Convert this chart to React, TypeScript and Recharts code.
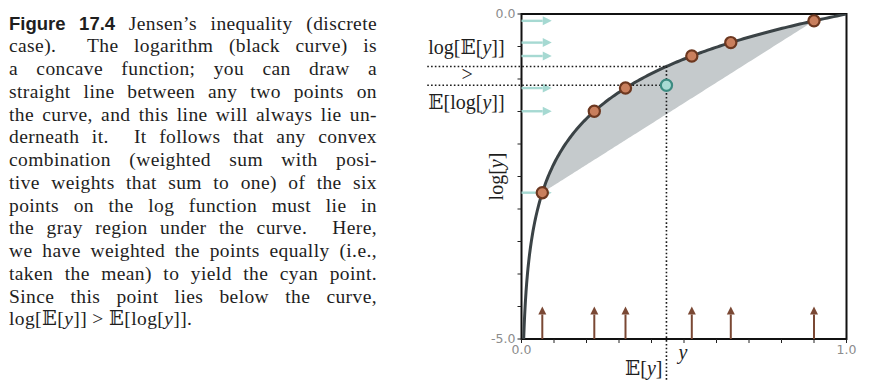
import { Area, ComposedChart, Line, ReferenceArea, ReferenceLine, Scatter, XAxis, YAxis } from "recharts"

// six sample points y_i
const pointX = [0.064, 0.224, 0.32, 0.524, 0.644, 0.9]
const xTicks = [0, 0.1, 0.2, 0.3, 0.4, 0.5, 0.6, 0.7, 0.8, 0.9, 1]
const yTicks = [-5, -4.5, -4, -3.5, -3, -2.5, -2, -1.5, -1, -0.5, 0]
const yMin = -5
const arrowLen = 0.093
const bottomArrowTop = -4.5

const captionLines = [
    "Jensen\u2019s inequality (discrete",
    "case).  The logarithm (black curve) is",
    "a concave function; you can draw a",
    "straight line between any two points on",
    "the curve, and this line will always lie un-",
    "derneath it.  It follows that any convex",
    "combination (weighted sum with posi-",
    "tive weights that sum to one) of the six",
    "points on the log function must lie in",
    "the gray region under the curve.  Here,",
    "we have weighted the points equally (i.e.,",
    "taken the mean) to yield the cyan point.",
    "Since this point lies below the curve,",
]

// the plotted function is log(y); sample it from where it leaves the frame
const x0 = Math.exp(yMin)
const first = pointX[0]
const last = pointX[pointX.length - 1]
const chord = (x: number) => Math.log(first) + ((x - first) / (last - first)) * (Math.log(last) - Math.log(first))
const curveX: number[] = [x0]
for (let i = 1; i <= 200; i++) curveX.push(x0 + (1 - x0) * Math.pow(i / 200, 2))
pointX.forEach((p) => curveX.push(p))
curveX.sort((a, b) => a - b)
const curve = curveX.map((x) => ({
    x,
    logy: Math.log(x),
    band: x >= first - 1e-9 && x <= last + 1e-9 ? [chord(x), Math.log(x)] : undefined,
}))

const points = pointX.map((x) => ({ x, y: Math.log(x) }))
const meanX = pointX.reduce((a, b) => a + b, 0) / pointX.length
const meanLog = points.reduce((a, p) => a + p.y, 0) / points.length
const meanPoint = [{ x: meanX, y: meanLog }]

const serif = "'Liberation Serif', 'DejaVu Serif', serif"
const BB = "\u{1D53C}"

const arrowShape = (color: string, width: number, head: number) => (p: any) => {
    const { x1, y1, x2, y2 } = p
    const a = Math.atan2(y2 - y1, x2 - x1)
    const bx = x2 - head * Math.cos(a)
    const by = y2 - head * Math.sin(a)
    const w = head * 0.5
    return (
        <g>
            <line x1={x1} y1={y1} x2={bx} y2={by} stroke={color} strokeWidth={width} />
            <polygon
                points={`${x2},${y2} ${bx - w * Math.sin(a)},${by + w * Math.cos(a)} ${bx + w * Math.sin(a)},${by - w * Math.cos(a)}`}
                fill={color}
            />
        </g>
    )
}

const dotted = { stroke: "#1a1a1a", strokeWidth: 1.6, strokeDasharray: "1.6 2.2" }

const Dot = (fill: string, stroke: string) => (p: any) => (
    <circle cx={p.cx} cy={p.cy} r={5.6} fill={fill} stroke={stroke} strokeWidth={2.2} />
)

const MathY = () => <tspan fontStyle="italic">y</tspan>

export default function App() {
    return (
        <div style={{ position: "absolute", left: 0, top: 0, width: 872, height: 391, background: "#fff" }}>
            <div
                style={{
                    position: "absolute",
                    left: 9,
                    top: 12.5,
                    width: 368,
                    fontFamily: serif,
                    fontSize: 19.5,
                    letterSpacing: 0.4,
                    lineHeight: "22.75px",
                    color: "#1e1e1e",
                }}
            >
                {captionLines.map((l, i) => (
                    <div key={i} style={{ textAlign: "justify", textAlignLast: "justify", whiteSpace: "pre-wrap" }}>
                        {i === 0 && (
                            <b style={{ fontFamily: "'Liberation Sans', Arial, sans-serif", fontSize: 18.5, letterSpacing: 0 }}>
                                Figure{"\u00a0"}17.4{"\u00a0"}
                            </b>
                        )}
                        {l}
                    </div>
                ))}
                <div>
                    log[{BB}[<i>y</i>]] &gt; {BB}[log[<i>y</i>]].
                </div>
            </div>

            <ComposedChart
                width={872}
                height={391}
                data={curve}
                margin={{ top: 14, right: 25.5, bottom: 22, left: 481.5 }}
                style={{ position: "absolute", left: 0, top: 0 }}
            >
                <XAxis
                    dataKey="x"
                    type="number"
                    domain={[0, 1]}
                    ticks={xTicks}
                    allowDataOverflow
                    height={30}
                    axisLine={false}
                    tickSize={4}
                    tickLine={{ stroke: "#222" }}
                    tick={{ fill: "#8c8c8c", fontSize: 12.5, fontFamily: "'DejaVu Sans', sans-serif" }}
                    tickFormatter={(v: number) => (v === 0 || v === 1 ? v.toFixed(1) : "")}
                    label={(p: any) => (
                        <text x={p.viewBox.x + p.viewBox.width / 2 - 1} y={p.viewBox.y + 20} fontFamily={serif} fontSize={20} fontStyle="italic" textAnchor="middle" fill="#1e1e1e">
                            y
                        </text>
                    )}
                />
                <YAxis
                    type="number"
                    domain={[yMin, 0]}
                    ticks={yTicks}
                    allowDataOverflow
                    width={40}
                    axisLine={false}
                    tickSize={4}
                    tickLine={{ stroke: "#222" }}
                    tick={{ fill: "#8c8c8c", fontSize: 12.5, fontFamily: "'DejaVu Sans', sans-serif" }}
                    tickFormatter={(v: number) => (v === 0 ? "0.0" : v === yMin ? "-5.0" : "")}
                    label={(p: any) => {
                        const cx = p.viewBox.x + 15
                        const cy = p.viewBox.y + p.viewBox.height / 2
                        return (
                            <text x={cx} y={cy} transform={`rotate(-90 ${cx} ${cy})`} dy={6} fontFamily={serif} fontSize={20} textAnchor="middle" fill="#1e1e1e">
                                log[<MathY />]
                            </text>
                        )
                    }}
                />
                <Area dataKey="band" fill="#c5cacc" fillOpacity={1} stroke="none" isAnimationActive={false} />
                <Line dataKey="logy" stroke="#3b4346" strokeWidth={3} dot={false} isAnimationActive={false} />

                {points.map((p, i) => (
                    <ReferenceLine
                        key={"c" + i}
                        segment={[{ x: 0, y: p.y }, { x: arrowLen, y: p.y }]}
                        shape={arrowShape("#a6d9d2", 2.4, 9)}
                    />
                ))}
                {points.map((p, i) => (
                    <ReferenceLine
                        key={"b" + i}
                        segment={[{ x: p.x, y: yMin }, { x: p.x, y: bottomArrowTop }]}
                        shape={arrowShape("#7a4834", 2, 8)}
                    />
                ))}

                <ReferenceLine
                    ifOverflow="visible"
                    segment={[{ x: -0.29, y: Math.log(meanX) }, { x: meanX, y: Math.log(meanX) }]}
                    shape={(p: any) => (
                        <g>
                            <line x1={p.x1} y1={p.y1} x2={p.x2} y2={p.y2} {...dotted} />
                            <text x={p.x1 + 1} y={p.y1 - 12} fontFamily={serif} fontSize={20} fill="#1e1e1e">
                                log[{BB}[<MathY />]]
                            </text>
                            <text x={p.x1 + 40} y={p.y1 + 15} fontFamily={serif} fontSize={20} textAnchor="middle" fill="#1e1e1e">
                                &gt;
                            </text>
                        </g>
                    )}
                />
                <ReferenceLine
                    ifOverflow="visible"
                    segment={[{ x: -0.29, y: meanLog }, { x: meanX, y: meanLog }]}
                    shape={(p: any) => (
                        <g>
                            <line x1={p.x1} y1={p.y1} x2={p.x2} y2={p.y2} {...dotted} />
                            <text x={p.x1 + 1} y={p.y1 + 24} fontFamily={serif} fontSize={20} fill="#1e1e1e">
                                {BB}[log[<MathY />]]
                            </text>
                        </g>
                    )}
                />
                <ReferenceLine
                    ifOverflow="visible"
                    segment={[{ x: meanX, y: Math.log(meanX) }, { x: meanX, y: -5.63 }]}
                    shape={(p: any) => (
                        <g>
                            <line x1={p.x1} y1={p.y1} x2={p.x2} y2={p.y2} {...dotted} />
                            <text x={p.x2 - 4} y={p.y2 - 5} fontFamily={serif} fontSize={20} textAnchor="end" fill="#1e1e1e">
                                {BB}[<MathY />]
                            </text>
                        </g>
                    )}
                />

                <Scatter data={points} dataKey="y" shape={Dot("#c97f5d", "#6d3820")} isAnimationActive={false} />
                <Scatter data={meanPoint} dataKey="y" shape={Dot("#a8dbd4", "#3c8b81")} isAnimationActive={false} />

                <ReferenceArea x1={0} x2={1} y1={yMin} y2={0} fill="none" stroke="#111" strokeWidth={2} ifOverflow="visible" />
            </ComposedChart>
        </div>
    )
}
